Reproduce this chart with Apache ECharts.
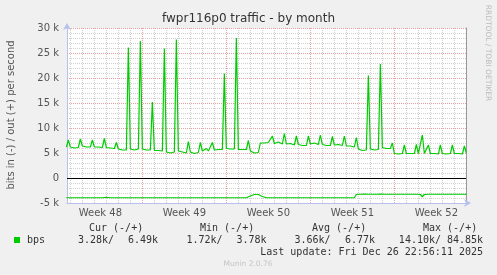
<!DOCTYPE html>
<html><head><meta charset="utf-8">
<script src="https://cdn.jsdelivr.net/npm/echarts@6/dist/echarts.min.js"></script>
<style>html,body{margin:0;padding:0;background:#f0f0f0}#c{width:497px;height:275px}</style>
</head><body><div id="c"></div>
<script>
// ---- data ----
const chartTitle = 'fwpr116p0 traffic - by month';
const yAxisName = 'bits in (-) / out (+) per second';
const weekLabels = ['Week 48', 'Week 49', 'Week 50', 'Week 51', 'Week 52'];
const weekStarts = [-7, 0, 7, 14, 21];          // days relative to Sun 30 Nov 00:00
const xMin = -6.28, xMax = 26.97;                // visible time range (days)
const T0 = -6 - 8 / 24;                          // first sample: Sun 23 Nov 16:00
const STEP = 4 / 24;                             // 4-hour samples
// out (+) traffic, kbit/s
const outK = [
  6.2,
  7.6, 6.2, 6.1, 6.0, 6.2, 6.1,
  7.8, 6.4, 6.3, 6.2, 6.3, 6.2,
  7.6, 6.2, 6.1, 6.2, 6.0, 6.1,
  7.9, 6.1, 5.9, 6.0, 5.8, 5.9,
  7.1, 5.8, 5.7, 5.6, 5.7, 5.6,
  26.1, 5.8, 5.7, 5.6, 5.7, 5.8,
  27.4, 5.8, 5.7, 5.6, 5.5, 5.6,
  15.2, 5.5, 5.4, 5.5, 5.3, 5.4,
  25.9, 5.2, 5.1, 5.0, 5.1, 5.2,
  27.7, 5.4, 5.3, 5.2, 5.3, 5.0,
  7.3, 5.2, 5.1, 4.9, 4.9, 5.1,
  7.1, 5.4, 5.5, 5.9, 5.4, 5.5,
  7.1, 5.6, 5.5, 5.7, 5.6, 5.7,
  20.9, 5.9, 5.8, 5.8, 5.9, 5.8,
  28.0, 5.7, 5.8, 5.7, 5.6, 5.7,
  7.5, 5.4, 5.1, 5.0, 5.0, 5.1,
  7.0, 6.9, 7.0, 6.8, 7.1, 6.9,
  8.4, 6.9, 6.8, 7.2, 6.9, 6.8,
  8.9, 6.8, 6.7, 6.9, 6.7, 6.6,
  8.4, 6.7, 6.6, 6.5, 6.6, 6.5,
  8.4, 6.8, 6.9, 7.0, 6.8, 6.7,
  8.6, 6.7, 6.6, 6.5, 6.7, 6.5,
  8.3, 6.6, 6.5, 6.7, 6.4, 6.5,
  8.4, 6.4, 6.3, 6.4, 6.2, 6.2,
  8.1, 5.8, 5.6, 5.5, 5.6, 5.6,
  20.5, 5.8, 5.7, 5.6, 5.7, 5.7,
  22.8, 6.1, 6.0, 5.9, 5.9, 5.9,
  7.0, 4.9, 4.9, 4.8, 4.9, 4.9,
  6.6, 4.9, 4.9, 4.9, 4.8, 4.9,
  6.7, 4.9, 5.0, 8.6, 4.9, 4.9,
  6.6, 4.9, 4.8, 4.9, 4.9, 4.8,
  6.6, 4.9, 4.9, 4.8, 4.9, 4.9,
  6.6, 4.9, 4.8, 4.9, 4.9, 4.8,
  6.4, 5.0
];
// in (-) traffic, kbit/s (drawn below zero)
const inK = [
  3.95,
  3.95, 3.95, 3.95, 3.95, 3.95, 3.95,
  3.95, 3.95, 3.90, 3.95, 3.95, 3.95,
  3.95, 3.95, 3.95, 3.95, 3.95, 3.95,
  3.95, 3.85, 3.95, 3.95, 3.95, 3.95,
  3.95, 3.95, 3.95, 3.95, 3.88, 3.95,
  3.95, 3.95, 3.95, 3.95, 3.85, 3.95,
  3.95, 3.95, 3.95, 3.95, 3.95, 3.95,
  3.95, 3.95, 3.85, 3.95, 3.95, 3.95,
  3.95, 3.95, 3.95, 3.95, 3.95, 3.95,
  3.95, 3.95, 3.95, 3.95, 3.95, 3.95,
  3.95, 3.95, 3.95, 3.95, 3.95, 3.95,
  3.95, 3.95, 3.95, 3.95, 3.95, 3.95,
  3.95, 3.95, 3.95, 3.95, 3.95, 3.95,
  3.95, 3.95, 3.95, 3.95, 3.95, 3.95,
  3.95, 3.95, 3.95, 3.95, 3.95, 3.95,
  3.95, 3.60, 3.30, 3.30, 3.30, 3.30,
  3.30, 3.70, 3.95, 3.95, 3.95, 3.95,
  3.95, 3.95, 3.95, 3.95, 3.95, 3.95,
  3.95, 3.95, 3.95, 3.95, 3.95, 3.95,
  3.95, 3.95, 3.95, 3.95, 3.95, 3.95,
  3.95, 3.95, 3.95, 3.95, 3.95, 3.95,
  3.95, 3.95, 3.95, 3.95, 3.95, 3.95,
  3.95, 3.95, 3.95, 3.95, 3.95, 3.95,
  3.95, 3.95, 3.95, 3.95, 3.95, 3.95,
  3.30, 3.25, 3.25, 3.25, 3.22, 3.25,
  3.25, 3.25, 3.25, 3.25, 3.25, 3.25,
  3.22, 3.25, 3.25, 3.25, 3.25, 3.25,
  3.25, 3.25, 3.25, 3.25, 3.25, 3.25,
  3.25, 3.25, 3.25, 3.25, 3.25, 3.25,
  3.25, 3.25, 3.30, 3.75, 3.30, 3.25,
  3.25, 3.25, 3.25, 3.25, 3.25, 3.25,
  3.25, 3.25, 3.25, 3.25, 3.25, 3.25,
  3.25, 3.25, 3.25, 3.25, 3.25, 3.25,
  3.25, 3.28
];
const legendHeaders = ['Cur (-/+)', 'Min (-/+)', 'Avg (-/+)', 'Max (-/+)'];
const statsIn  = ['3.28k', '1.72k', '3.66k', '14.10k'];
const statsOut = ['6.49k', '3.78k', '6.77k', '84.85k'];
const seriesName = 'bps';
const lastUpdate = 'Last update: Fri Dec 26 22:56:11 2025';
const footer = 'Munin 2.0.76';
const watermark = 'RRDTOOL / TOBI OETIKER';

// ---- chart ----
const GREEN = '#00cc00';
const AXIS = '#b8c0ee';
const days = [];
for (let d = Math.ceil(xMin); d <= Math.floor(xMax); d++) if (weekStarts.indexOf(d) < 0) days.push(d);
const weekMid = weekStarts.map(w => w + 3.5);
const outData = outK.map((v, i) => [T0 + i * STEP, v]);
const inData = inK.map((v, i) => [T0 + i * STEP, -v]);

const mono = "'DejaVu Sans Mono', monospace";
const sans = "'DejaVu Sans', sans-serif";
const graphics = [];
function txt(x, y, s, opts) {
  graphics.push(Object.assign({type: 'text', x: x, y: y, silent: true,
    style: Object.assign({text: s, font: '10px ' + mono, fill: '#333', textAlign: 'left', textVerticalAlign: 'middle'}, opts || {})}));
}
graphics.push({type: 'rect', shape: {x: 0, y: 0, width: 497, height: 275}, style: {fill: '#f0f0f0'}, z: -10, silent: true});
txt(248.5, 19, chartTitle, {font: '12px ' + sans, fill: '#333', textAlign: 'center'});
graphics.push({type: 'text', x: 11, y: 115, rotation: Math.PI / 2, silent: true,
  style: {text: yAxisName, font: '10px ' + sans, fill: '#555', textAlign: 'center', textVerticalAlign: 'middle'}});
graphics.push({type: 'text', x: 488, y: 53, rotation: -Math.PI / 2, silent: true,
  style: {text: watermark, font: '7.5px ' + sans, fill: '#bbbbbb', textAlign: 'center', textVerticalAlign: 'middle'}});
const headX = [89, 200, 312, 423];
legendHeaders.forEach((h, i) => txt(headX[i], 228, h));
graphics.push({type: 'rect', shape: {x: 14, y: 237, width: 6, height: 6}, style: {fill: GREEN}, silent: true});
txt(27, 240, seriesName);
const inRight = [114, 222.5, 330.5, 441];
const outRight = [158, 266.5, 375, 483];
statsIn.forEach((s, i) => txt(inRight[i], 240, s + '/', {textAlign: 'right'}));
statsOut.forEach((s, i) => txt(outRight[i], 240, s, {textAlign: 'right'}));
txt(483, 252, lastUpdate, {textAlign: 'right'});
txt(248, 264, footer, {font: '7.5px ' + sans, fill: '#c4c4c4', textAlign: 'center'});

const chart = echarts.init(document.getElementById('c'), null, {renderer: 'canvas'});
chart.setOption({
  animation: false,
  backgroundColor: '#f0f0f0',
  graphic: graphics,
  grid: {left: 67, right: 31, top: 28, bottom: 72, show: true, backgroundColor: '#ffffff', borderWidth: 0},
  xAxis: [{
    type: 'value', min: xMin, max: xMax,
    axisLine: {show: true, onZero: false, lineStyle: {color: AXIS, width: 1}, symbol: ['none', 'arrow'], symbolSize: [6, 7], symbolOffset: [0, 5]},
    axisTick: {show: false, customValues: days},
    axisLabel: {customValues: weekMid, formatter: v => weekLabels[weekMid.indexOf(v)] || '', color: '#555', fontSize: 10, fontFamily: sans, margin: 5},
    splitLine: {show: true, lineStyle: {color: '#d0d0d0', type: 'dotted', width: 1}}
  }, {
    type: 'value', min: xMin, max: xMax, position: 'bottom',
    axisLine: {show: false}, axisLabel: {show: false},
    axisTick: {show: false, customValues: weekStarts},
    splitLine: {show: true, lineStyle: {color: '#e8a0a0', type: 'dotted', width: 1}}
  }],
  yAxis: [{
    type: 'value', min: -5, max: 30, interval: 5,
    axisLine: {show: true, onZero: false, lineStyle: {color: AXIS, width: 1}, symbol: ['none', 'arrow'], symbolSize: [6, 7], symbolOffset: [0, 5]},
    axisTick: {show: false},
    axisLabel: {formatter: v => v === 0 ? '0' : v + ' k', color: '#555', fontSize: 10, fontFamily: sans, margin: 8},
    splitLine: {show: true, lineStyle: {color: '#e8a0a0', type: 'dotted', width: 1}},
    minorTick: {show: false, splitNumber: 5},
    minorSplitLine: {show: true, lineStyle: {color: '#d0d0d0', type: 'dotted', width: 1}}
  }, {
    type: 'value', min: -5, max: 30, interval: 5, position: 'right',
    axisLine: {show: true, onZero: false, lineStyle: {color: '#999999', width: 1}},
    axisTick: {show: false}, axisLabel: {show: false}, splitLine: {show: false}
  }],
  series: [{
    name: 'out', type: 'line', data: outData, xAxisIndex: 0, yAxisIndex: 0,
    showSymbol: false, symbol: 'none', z: 5, clip: true,
    lineStyle: {color: GREEN, width: 1.2},
    markLine: {silent: true, symbol: 'none', label: {show: false},
      lineStyle: {color: '#000', width: 1, type: 'solid'}, data: [{yAxis: 0}]}
  }, {
    name: 'in', type: 'line', data: inData, xAxisIndex: 0, yAxisIndex: 0,
    showSymbol: false, symbol: 'none', z: 5, clip: true,
    lineStyle: {color: GREEN, width: 1.2}
  }]
});
</script></body></html>
